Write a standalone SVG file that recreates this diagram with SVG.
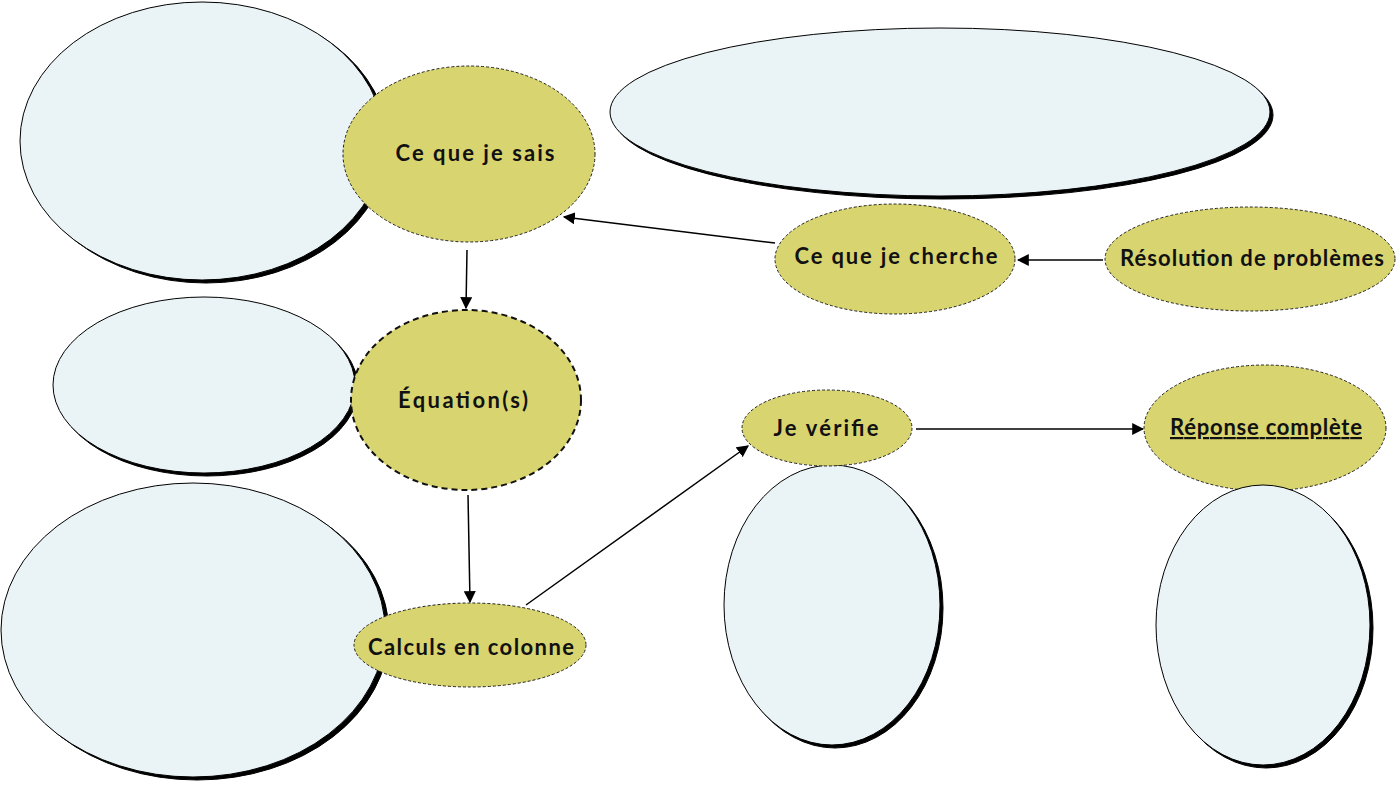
<svg xmlns="http://www.w3.org/2000/svg" width="1400" height="785" viewBox="0 0 1400 785">
<defs>
<marker id="arr" viewBox="0 0 10 10" refX="9" refY="5" markerWidth="12" markerHeight="12" markerUnits="userSpaceOnUse" orient="auto">
<path d="M0,0 L10,5 L0,10 z" fill="#000"/>
</marker>
<style>
.sh{fill:#000;stroke:#000;stroke-width:1}
.bl{fill:#EAF3F5;stroke:#000;stroke-width:1}
.ye{fill:#D8D470;stroke:#222;stroke-width:1;stroke-dasharray:3,2}
.yeb{fill:#D8D470;stroke:#111;stroke-width:2;stroke-dasharray:6,4}
.t{font-family:"Lato","Open Sans",sans-serif;font-weight:700;font-size:22px;fill:#111;text-anchor:middle}
.c{stroke:#000;stroke-width:1.5;fill:none;marker-end:url(#arr)}
</style>
</defs>
<rect width="1400" height="785" fill="#fff"/>

<g id="blue-topleft">
<ellipse class="sh" cx="206" cy="144" rx="182" ry="139"/>
<ellipse class="bl" cx="202" cy="141" rx="182" ry="139"/>
</g>
<g id="blue-topright">
<ellipse class="sh" cx="943" cy="115" rx="330" ry="84"/>
<ellipse class="bl" cx="940" cy="112" rx="330" ry="84"/>
</g>
<g id="blue-midleft">
<ellipse class="sh" cx="207" cy="388" rx="151" ry="88"/>
<ellipse class="bl" cx="204" cy="385" rx="151" ry="88"/>
</g>
<g id="blue-botleft">
<ellipse class="sh" cx="197" cy="633" rx="192" ry="147"/>
<ellipse class="bl" cx="193" cy="630" rx="192" ry="147"/>
</g>
<g id="blue-verif">
<ellipse class="sh" cx="835" cy="608" rx="108" ry="140"/>
<ellipse class="bl" cx="832" cy="605" rx="108" ry="140"/>
</g>

<g id="connectors">
<line class="c" x1="775" y1="243" x2="564" y2="217"/>
<line class="c" x1="1103" y1="260" x2="1018" y2="260"/>
<line class="c" x1="467" y1="250" x2="466" y2="308"/>
<line class="c" x1="468" y1="495" x2="470" y2="602"/>
<line class="c" x1="526" y1="605" x2="748" y2="446"/>
<line class="c" x1="916" y1="429" x2="1143" y2="429"/>
</g>

<g id="n-sais">
<ellipse class="ye" cx="469" cy="154" rx="126" ry="88"/>
<text class="t" x="475" y="161" textLength="159" lengthAdjust="spacing">Ce que je sais</text>
</g>
<g id="n-cherche">
<ellipse class="ye" cx="895" cy="259" rx="120" ry="55"/>
<text class="t" x="896" y="264" textLength="203" lengthAdjust="spacing">Ce que je cherche</text>
</g>
<g id="n-resolution">
<ellipse class="ye" cx="1250" cy="259" rx="145" ry="52"/>
<text class="t" x="1252" y="266" textLength="264" lengthAdjust="spacing">Résolution de problèmes</text>
</g>
<g id="n-equation">
<ellipse class="yeb" cx="466" cy="400" rx="115" ry="90"/>
<text class="t" x="463" y="408" textLength="130" lengthAdjust="spacing">Équation(s)</text>
</g>
<g id="n-verifie">
<ellipse class="ye" cx="827" cy="428" rx="85" ry="38"/>
<text class="t" x="826" y="436" textLength="105" lengthAdjust="spacing">Je vérifie</text>
</g>
<g id="n-calculs">
<ellipse class="ye" cx="470" cy="645" rx="116" ry="42"/>
<text class="t" x="471" y="655" textLength="206" lengthAdjust="spacing">Calculs en colonne</text>
</g>
<g id="n-reponse">
<ellipse class="ye" cx="1265" cy="428" rx="121" ry="63"/>
<text class="t" x="1266" y="435" textLength="192" lengthAdjust="spacing" text-decoration="underline">Réponse complète</text>
</g>

<g id="blue-reponse">
<ellipse class="sh" cx="1266" cy="628" rx="107" ry="140"/>
<ellipse class="bl" cx="1263" cy="625" rx="107" ry="140"/>
</g>
</svg>
